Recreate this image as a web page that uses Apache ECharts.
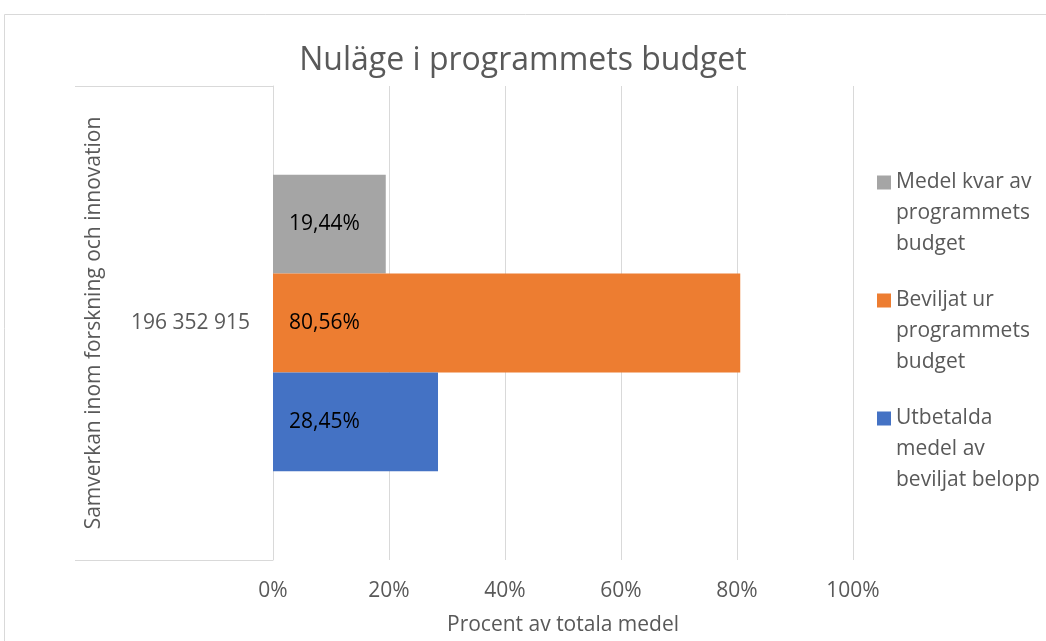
<!DOCTYPE html>
<html>
<head>
<meta charset="utf-8">
<script src="https://cdn.jsdelivr.net/npm/echarts@6/dist/echarts.min.js"></script>
<style>
    html, body { margin: 0; padding: 0; background: #fff; }
    #chart { width: 1046px; height: 641px; }
</style>
</head>
<body>
<div id="chart"></div>
<script>
// data
const chartTitle = 'Nuläge i programmets budget'
const categories = ['196 352 915']
const groupName = 'Samverkan inom forskning och innovation'
const xAxisName = 'Procent av totala medel'

// series from top to bottom
const seriesNames = [
    'Medel kvar av programmets budget',
    'Beviljat ur programmets budget',
    'Utbetalda medel av beviljat belopp'
]
const seriesValues = [19.44, 80.56, 28.45]
const seriesColors = ['#A5A5A5', '#ED7D31', '#4472C4']
const legendLabels = [
    'Medel kvar av\nprogrammets\nbudget',
    'Beviljat ur\nprogrammets\nbudget',
    'Utbetalda\nmedel av\nbeviljat belopp'
]
const xMin = 0
const xMax = 100
const xStep = 20

const textColor = '#595959'
const lineColor = '#D9D9D9'
const font = 'Open Sans'

function pct(v) {
    return v.toFixed(2).replace('.', ',') + '%'
}

const chart = echarts.init(document.getElementById('chart'), null, { renderer: 'canvas' })

const series = seriesNames.map((name, i) => ({
    name: name,
    type: 'bar',
    data: [seriesValues[i]],
    itemStyle: { color: seriesColors[i] },
    barGap: '0%',
    barCategoryGap: '37.4%',
    label: {
        show: true,
        position: 'insideLeft',
        distance: 16,
        color: '#000',
        fontFamily: font,
        fontSize: 21,
        formatter: p => pct(p.value)
    }
}))

const option = {
    animation: false,
    textStyle: { fontFamily: font },
    title: {
        text: chartTitle,
        left: 'center',
        top: 45,
        padding: [0, 0, 0, 22],
        textStyle: { color: textColor, fontFamily: font, fontSize: 32, fontWeight: 'normal' }
    },
    graphic: [{
        type: 'rect',
        silent: true,
        shape: { x: 4.5, y: 14.5, width: 1100, height: 700 },
        style: { fill: 'none', stroke: lineColor, lineWidth: 1 }
    }],
    legend: {
        orient: 'vertical',
        left: 877,
        top: 167,
        padding: 0,
        itemWidth: 14,
        itemHeight: 76,
        itemGap: 25,
        // square at the top of a tall box so it sits on the first text line
        icon: 'path://M0,0L14,0L14,14L0,14Z M0,76L14,76Z',
        data: seriesNames,
        formatter: name => legendLabels[seriesNames.indexOf(name)],
        textStyle: { color: textColor, fontFamily: font, fontSize: 21, lineHeight: 31 }
    },
    grid: { left: 273, right: 193, top: 86, bottom: 76 },
    xAxis: {
        type: 'value',
        min: xMin,
        max: xMax,
        interval: xStep,
        name: xAxisName,
        nameLocation: 'middle',
        nameGap: 55,
        nameTextStyle: { color: textColor, fontFamily: font, fontSize: 21 },
        axisLine: { show: false },
        axisTick: { show: false },
        axisLabel: { color: textColor, fontFamily: font, fontSize: 21, margin: 21, formatter: '{value}%' },
        splitLine: { show: true, lineStyle: { color: lineColor, width: 1 } }
    },
    yAxis: {
        type: 'category',
        data: categories,
        name: groupName,
        nameLocation: 'middle',
        nameRotate: 90,
        nameGap: 168,
        nameTextStyle: { color: textColor, fontFamily: font, fontSize: 21 },
        axisLine: { show: true, lineStyle: { color: lineColor, width: 1 } },
        axisTick: { show: true, inside: false, length: 198, lineStyle: { color: lineColor, width: 1 } },
        axisLabel: { color: textColor, fontFamily: font, fontSize: 21, margin: 23 }
    },
    series: series
}

chart.setOption(option)
</script>
</body>
</html>
